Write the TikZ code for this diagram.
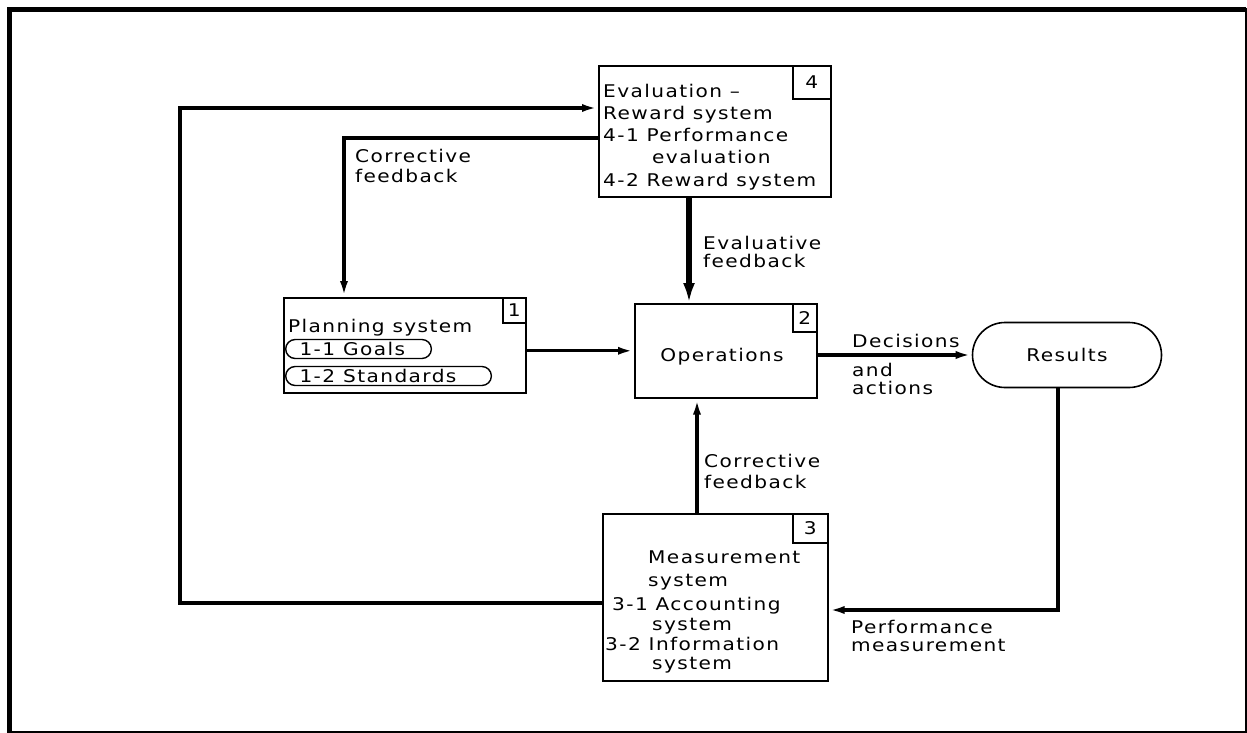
\documentclass[tikz,border=0pt]{standalone}
\usepackage{fontspec}
\setmainfont{DejaVu Sans}[FakeStretch=1.15,LetterSpace=8]
\usetikzlibrary{arrows.meta,shapes.misc,calc}
\newcommand\dgfont{\fontsize{17.5}{21}\selectfont}
\begin{document}
\begin{tikzpicture}[x=1pt,y=-1pt,
  blk/.style={draw, line width=1.6pt, inner sep=0pt, anchor=north west},
  numbox/.style={draw, line width=1.6pt, inner sep=0pt, anchor=north east, font=\dgfont},
  lbl/.style={inner sep=0pt, anchor=base west, font=\dgfont},
  conn/.style={line width=3.2pt, -{Latex[length=16pt,width=8pt]}},
  bigconn/.style={line width=5.5pt, -{Latex[length=20pt,width=12pt]}},
  pill/.style={draw, rounded rectangle, line width=1.4pt, inner xsep=6pt, inner ysep=0pt, minimum height=19pt, anchor=west, align=left, font=\dgfont}]
\useasboundingbox (0,0) rectangle (1247,733);
% frame
\draw[line width=4.5pt] (1246,9.5) -- (9.5,9.5) -- (9.5,733);
\draw[line width=2pt] (1246,8) -- (1246,732) -- (8,732);

% box 4
\node[blk, minimum width=232pt, minimum height=131pt] (b4) at (598,65) {};
\node[numbox, minimum width=38pt, minimum height=33pt] (n4) at (b4.north east) {4};
\node[lbl] (t4a) at (603,98) {Evaluation –};
\node[lbl] (t4b) at (603,120) {Reward system};
\node[lbl] (t4c) at (603,142) {4-1 Performance};
\node[lbl] (t4d) at (652,164) {evaluation};
\node[lbl] (t4e) at (603,186) {4-2 Reward system};

% box 1
\node[blk, minimum width=242pt, minimum height=95pt] (b1) at (283,297) {};
\node[numbox, minimum width=23pt, minimum height=25pt] (n1) at (b1.north east) {1};
\node[lbl] (t1) at (288,332) {Planning system};
\node[pill, text width=128pt] (p1) at (285,349) {\hspace*{5pt}1-1\hspace{8pt}Goals};
\node[pill, text width=188pt] (p2) at (285,376) {\hspace*{5pt}1-2\hspace{8pt}Standards};

% box 2
\node[blk, minimum width=182pt, minimum height=94pt] (b2) at (634,303) {};
\node[numbox, minimum width=24pt, minimum height=28pt] (n2) at (b2.north east) {2};
\node[font=\dgfont, inner sep=0pt] (t2) at (722,357) {Operations};

% results
\node[draw, rounded rectangle, line width=1.6pt, minimum width=189pt, minimum height=65pt, inner sep=0pt, font=\dgfont] (res) at (1067,355) {Results};

% box 3
\node[blk, minimum width=225pt, minimum height=167pt] (b3) at (602,513) {};
\node[numbox, minimum width=35pt, minimum height=29pt] (n3) at (b3.north east) {3};
\node[lbl] (t3a) at (648,563) {Measurement};
\node[lbl] (t3b) at (648,586) {system};
\node[lbl] (t3c) at (612,610) {3-1 Accounting};
\node[lbl] (t3d) at (652,630) {system};
\node[lbl] (t3e) at (605,650) {3-2 Information};
\node[lbl] (t3f) at (652,669) {system};

% helper coordinates
\coordinate (c1) at (180,603);
\coordinate (c2) at (180,108);
\coordinate (c3) at (344,138);
\coordinate (ev) at (689,0);
\coordinate (c4) at (1058,610);
\coordinate (c5) at (697,0);

% connectors
\draw[conn] (b3.west |- c1) -- (c1) -- (c2) -- (b4.west |- c2);
\draw[conn] (b4.west |- c3) -- (c3) -- (c3 |- b1.north);
\draw[conn] (b2.west -| b1.east) -- (b2.west);
\draw[bigconn] (b4.south -| ev) -- (b2.north -| ev);
\draw[conn] (res.west -| b2.east) -- (res.west);
\draw[conn] (res.south -| c4) -- (c4) -- (c4 -| b3.east);
\draw[conn] (b3.north -| c5) -- (b2.south -| c5);

% labels
\node[lbl] (l1) at (355,162) {Corrective};
\node[lbl] (l2) at (355,182) {feedback};
\node[lbl] (l3) at (703,249) {Evaluative};
\node[lbl] (l4) at (703,267) {feedback};
\node[lbl] (l5) at (852,347) {Decisions};
\node[lbl] (l6) at (852,376) {and};
\node[lbl] (l7) at (852,394) {actions};
\node[lbl] (l8) at (704,467) {Corrective};
\node[lbl] (l9) at (704,488) {feedback};
\node[lbl] (l10) at (851,633) {Performance};
\node[lbl] (l11) at (851,651) {measurement};
\end{tikzpicture}
\end{document}
